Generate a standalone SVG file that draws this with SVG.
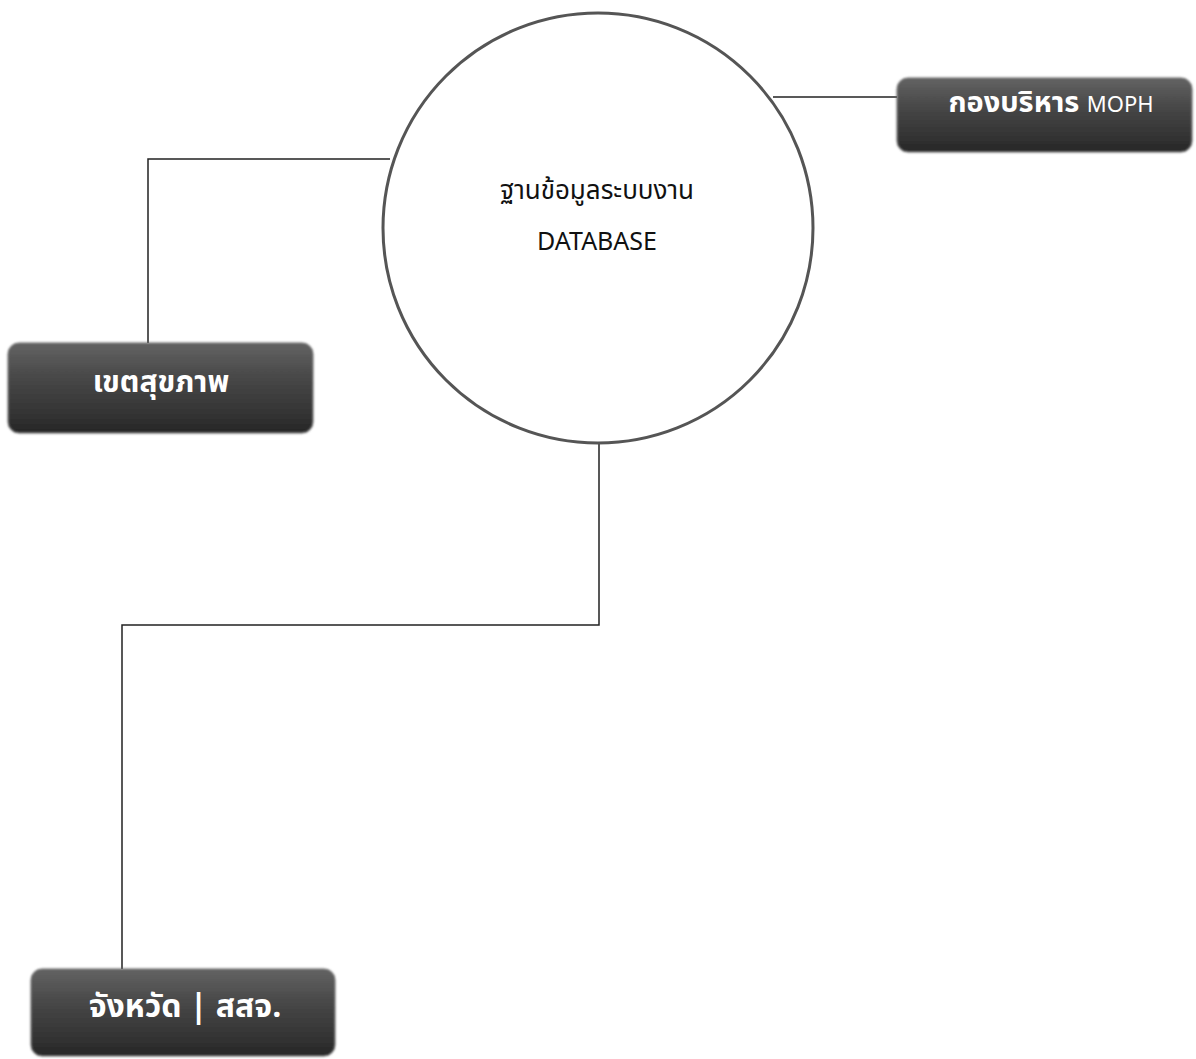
<svg xmlns="http://www.w3.org/2000/svg" width="1196" height="1059" viewBox="0 0 1196 1059">
  <style>
    .conn { fill: none; stroke: #222; stroke-width: 1.5; }
    .box { fill: url(#boxGrad); stroke: #6a6a6a; stroke-width: 1; filter: url(#soft); }
    .lbl { fill: #ffffff; font-family: "Noto Sans Thai", "Noto Sans", "DejaVu Sans", sans-serif; font-weight: bold; text-anchor: middle; }
    .ctr { fill: #111; font-family: "Noto Sans Thai", "Noto Sans", "Open Sans", sans-serif; text-anchor: middle; }
  </style>
  <defs>
    <linearGradient id="boxGrad" x1="0" y1="0" x2="0" y2="1">
      <stop offset="0" stop-color="#636363"/>
      <stop offset="0.4" stop-color="#474747"/>
      <stop offset="0.8" stop-color="#333333"/>
      <stop offset="1" stop-color="#262626"/>
    </linearGradient>
    <filter id="soft" x="-5%" y="-10%" width="110%" height="120%">
      <feGaussianBlur stdDeviation="1.2"/>
    </filter>
  </defs>
  <rect width="1196" height="1059" fill="#ffffff"/>

  <g id="connectors">
    <polyline class="conn" points="773,97 897,97"/>
    <polyline class="conn" points="390,159 148,159 148,343"/>
    <polyline class="conn" points="599,443 599,625 122,625 122,969"/>
  </g>

  <g id="node-database">
    <circle cx="598" cy="228" r="215" fill="#ffffff" stroke="#555" stroke-width="3"/>
    <text class="ctr" x="597" y="199" font-size="26">ฐานข้อมูลระบบงาน</text>
    <text class="ctr" x="597" y="250" font-size="25">DATABASE</text>
  </g>

  <g id="node-moph">
    <rect class="box" x="897" y="78" width="295" height="74" rx="11"/>
    <text class="lbl" x="1051" y="112" font-size="29">กองบริหาร <tspan font-size="22" font-weight="normal">MOPH</tspan></text>
  </g>

  <g id="node-region">
    <rect class="box" x="8" y="343" width="305" height="90" rx="11"/>
    <text class="lbl" x="161" y="392" font-size="30">เขตสุขภาพ</text>
  </g>

  <g id="node-province">
    <rect class="box" x="31" y="969" width="304" height="87" rx="11"/>
    <text class="lbl" x="185" y="1017" font-size="32">จังหวัด | สสจ.</text>
  </g>
</svg>
